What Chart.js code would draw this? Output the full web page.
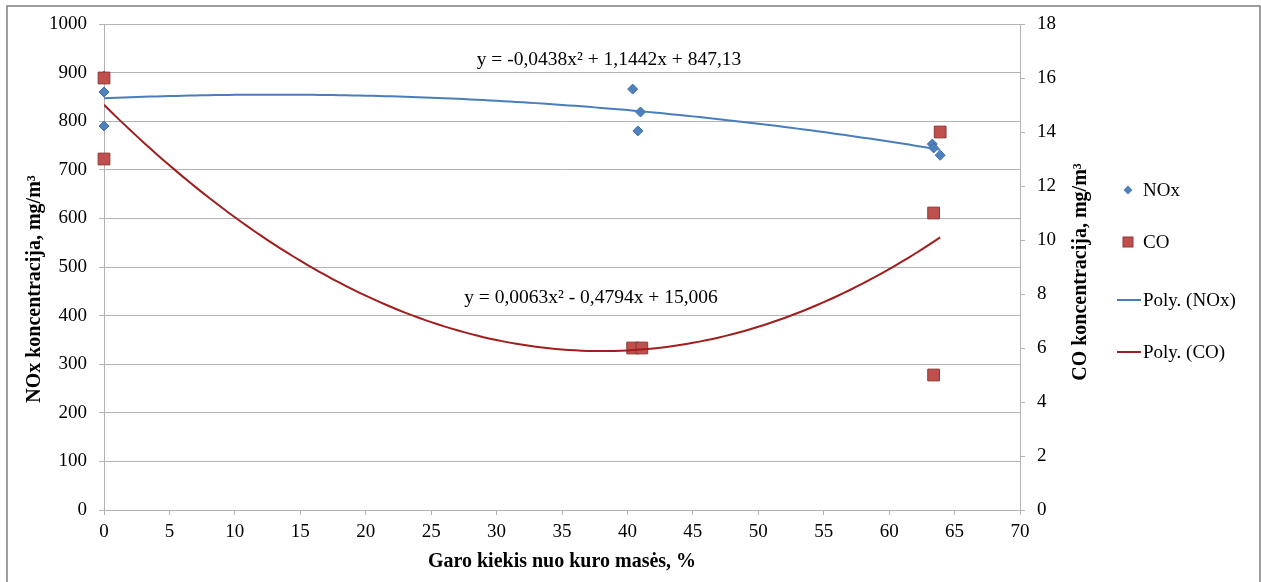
<!DOCTYPE html>
<html>
<head>
<meta charset="utf-8">
<script src="https://cdn.jsdelivr.net/npm/chart.js@4/dist/chart.umd.min.js"></script>
<style>
  body { margin: 0; background: #fff; }
  #wrap { width: 1261px; height: 582px; position: relative; }
</style>
</head>
<body>
<div id="wrap"><canvas id="grafikas"></canvas></div>
<script>
// matavimai: garo kiekis (%) ir koncentracijos
const noxX = [0, 0, 0, 40.4, 41.0, 40.8, 63.3, 63.4, 63.9];
const noxY = [893, 860, 790, 866, 819, 780, 753, 745, 730];
const coX = [0, 0, 40.4, 41.1, 63.9, 63.4, 63.4];
const coY = [16, 13, 6, 6, 14, 11, 5];

// polinominių trendų koeficientai (a, b, c)
const noxFit = [-0.0438, 1.1442, 847.13];
const coFit = [0.0063, -0.4794, 15.006];
const fitMax = 63.9;

const noxEq = 'y = -0,0438x² + 1,1442x + 847,13';
const coEq = 'y = 0,0063x² - 0,4794x + 15,006';

const legendLabels = ['NOx', 'CO', 'Poly. (NOx)', 'Poly. (CO)'];

const SERIF = '"Liberation Serif", "Times New Roman", serif';
const BLUE = '#4f81bd';
const RED = '#c0504d';
const LINE_BLUE = '#4a7ebb';
const LINE_RED = '#a01e1e';
const GRID = '#b3b3b3';

function taskai(xs, ys) {
    return xs.map(function (x, i) { return { x: x, y: ys[i] }; });
}

function trendas(k) {
    const pts = [];
    for (let x = 0; x < fitMax; x += 0.5) {
        pts.push({ x: x, y: k[0] * x * x + k[1] * x + k[2] });
    }
    pts.push({ x: fitMax, y: k[0] * fitMax * fitMax + k[1] * fitMax + k[2] });
    return pts;
}

// tekstai, legenda ir rėmelis piešiami ant drobės
const papildomai = {
    id: 'papildomai',
    afterDraw: function (chart) {
        const ctx = chart.ctx;
        ctx.save();

        // rėmelis
        ctx.strokeStyle = '#7f7f7f';
        ctx.lineWidth = 1.5;
        ctx.beginPath();
        ctx.moveTo(7, 590);
        ctx.lineTo(7, 6);
        ctx.lineTo(1260, 6);
        ctx.lineTo(1260, 590);
        ctx.stroke();

        ctx.fillStyle = '#000';
        ctx.textAlign = 'center';
        ctx.textBaseline = 'middle';

        // lygtys
        ctx.font = '19.5px ' + SERIF;
        ctx.fillText(noxEq, 609, 60);
        ctx.fillText(coEq, 591, 298);

        // vertikalūs ašių pavadinimai
        ctx.font = 'bold 20px ' + SERIF;
        ctx.save();
        ctx.translate(35, 289);
        ctx.rotate(-Math.PI / 2);
        ctx.fillText('NOx koncentracija, mg/m³', 0, 0);
        ctx.restore();
        ctx.save();
        ctx.translate(1081, 272);
        ctx.rotate(-Math.PI / 2);
        ctx.fillText('CO koncentracija, mg/m³', 0, 0);
        ctx.restore();

        // legenda
        const ly = [190, 242, 300, 352];
        ctx.font = '19px ' + SERIF;
        ctx.textAlign = 'left';
        legendLabels.forEach(function (t, i) {
            ctx.fillStyle = '#000';
            ctx.fillText(t, 1143, ly[i] + 1);
        });
        ctx.fillStyle = BLUE;
        ctx.beginPath();
        ctx.moveTo(1128, ly[0] - 4.5);
        ctx.lineTo(1132.5, ly[0]);
        ctx.lineTo(1128, ly[0] + 4.5);
        ctx.lineTo(1123.5, ly[0]);
        ctx.closePath();
        ctx.fill();
        ctx.fillStyle = RED;
        ctx.strokeStyle = '#8c3836';
        ctx.lineWidth = 1;
        ctx.fillRect(1123, ly[1] - 5, 10, 10);
        ctx.strokeRect(1123, ly[1] - 5, 10, 10);
        ctx.lineWidth = 2;
        ctx.strokeStyle = LINE_BLUE;
        ctx.beginPath();
        ctx.moveTo(1117, ly[2]);
        ctx.lineTo(1141, ly[2]);
        ctx.stroke();
        ctx.strokeStyle = LINE_RED;
        ctx.beginPath();
        ctx.moveTo(1117, ly[3]);
        ctx.lineTo(1141, ly[3]);
        ctx.stroke();

        ctx.restore();
    }
};

const tickFont = { family: SERIF, size: 19 };

new Chart(document.getElementById('grafikas'), {
    type: 'scatter',
    data: {
        datasets: [
            {
                label: 'Poly. (NOx)',
                data: trendas(noxFit),
                yAxisID: 'y',
                showLine: true,
                borderColor: LINE_BLUE,
                borderWidth: 2,
                pointRadius: 0,
                tension: 0
            },
            {
                label: 'Poly. (CO)',
                data: trendas(coFit),
                yAxisID: 'y2',
                showLine: true,
                borderColor: LINE_RED,
                borderWidth: 2,
                pointRadius: 0,
                tension: 0
            },
            {
                label: 'CO',
                data: taskai(coX, coY),
                yAxisID: 'y2',
                pointStyle: 'rect',
                pointRadius: 8.3,
                backgroundColor: RED,
                borderColor: '#8c3836',
                borderWidth: 1,
                clip: false
            },
            {
                label: 'NOx',
                data: taskai(noxX, noxY),
                yAxisID: 'y',
                pointStyle: 'rectRot',
                pointRadius: 5,
                backgroundColor: BLUE,
                borderColor: '#3f6fa8',
                borderWidth: 1,
                clip: false
            }
        ]
    },
    options: {
        responsive: true,
        maintainAspectRatio: false,
        animation: false,
        layout: { padding: { top: 24, left: 0, right: 0, bottom: 0 } },
        plugins: {
            legend: { display: false },
            tooltip: { enabled: false }
        },
        scales: {
            x: {
                type: 'linear',
                min: 0,
                max: 70,
                ticks: { stepSize: 5, font: tickFont, color: '#000', padding: 6, maxRotation: 0 },
                grid: { drawOnChartArea: false, drawTicks: true, tickLength: 5, tickColor: GRID },
                border: { color: GRID, width: 1 },
                title: {
                    display: true,
                    text: 'Garo kiekis nuo kuro masės, %',
                    font: { family: SERIF, size: 20, weight: 'bold' },
                    color: '#000',
                    padding: { top: 0, bottom: 8 }
                },
                afterFit: function (s) { s.height = 72; }
            },
            y: {
                position: 'left',
                min: 0,
                max: 1000,
                ticks: {
                    stepSize: 100, font: tickFont, color: '#000', padding: 12,
                    callback: function (v) { return String(v); }
                },
                grid: { color: GRID, tickLength: 5, tickColor: GRID },
                border: { color: GRID, width: 1 },
                afterFit: function (s) { s.width = 104; }
            },
            y2: {
                position: 'right',
                min: 0,
                max: 18,
                ticks: { stepSize: 2, font: tickFont, color: '#000', padding: 12 },
                grid: { drawOnChartArea: false, tickLength: 5, tickColor: GRID },
                border: { color: GRID, width: 1 },
                afterFit: function (s) { s.width = 241; }
            }
        }
    },
    plugins: [papildomai]
});
</script>
</body>
</html>
